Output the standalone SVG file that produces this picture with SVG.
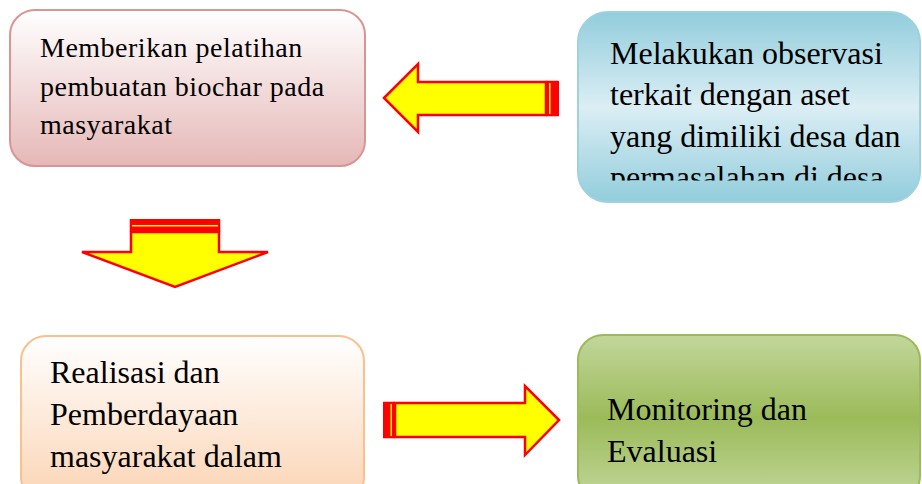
<svg xmlns="http://www.w3.org/2000/svg" width="922" height="484" viewBox="0 0 922 484">
<defs>
<linearGradient id="gPink" x1="0" y1="0" x2="0" y2="1"><stop offset="0" stop-color="#ffffff"/><stop offset="1" stop-color="#e5b8b7"/></linearGradient>
<linearGradient id="gBlue" x1="0" y1="0" x2="0" y2="1"><stop offset="0" stop-color="#92cddc"/><stop offset="0.5" stop-color="#dbeef4"/><stop offset="1" stop-color="#92cddc"/></linearGradient>
<linearGradient id="gOrange" x1="0" y1="0" x2="0" y2="1"><stop offset="0" stop-color="#ffffff"/><stop offset="1" stop-color="#fbd4b4"/></linearGradient>
<linearGradient id="gGreen" x1="0" y1="0" x2="0" y2="1"><stop offset="0" stop-color="#c2d69b"/><stop offset="0.5" stop-color="#9bbb59"/><stop offset="1" stop-color="#c2d69b"/></linearGradient>
<clipPath id="clipBlue"><rect x="578" y="12" width="342" height="168.5"/></clipPath>
</defs>
<style>
text{font-family:"Liberation Serif","Times New Roman",serif;fill:#000;}
.t28{font-size:28px;letter-spacing:0.5px;}
.t32{font-size:32px;}
.arrow{fill:#ffff00;stroke:#ff0000;stroke-width:2.5;stroke-linejoin:miter;}
.stripe{fill:#ff0000;}
.line{fill:#ffff00;}
</style>
<rect width="922" height="484" fill="#ffffff"/>
<g id="node-pelatihan">
<rect x="10" y="10" width="355" height="156" rx="25" ry="25" fill="url(#gPink)" stroke="#d99594" stroke-width="2"/>
<text class="t28" x="40" y="57">Memberikan pelatihan</text>
<text class="t28" x="40" y="95.5">pembuatan biochar pada</text>
<text class="t28" x="40" y="134">masyarakat</text>
</g>
<g id="node-observasi">
<rect x="578" y="12" width="342" height="190" rx="30" ry="30" fill="url(#gBlue)" stroke="#9dd2de" stroke-width="2"/>
<g clip-path="url(#clipBlue)">
<text class="t32" x="610" y="63.5">Melakukan observasi</text>
<text class="t32" x="610" y="105">terkait dengan aset</text>
<text class="t32" x="610" y="146.5">yang dimiliki desa dan</text>
<text class="t32" x="610" y="188">permasalahan di desa</text>
</g>
</g>
<g id="node-realisasi">
<rect x="21" y="336" width="343" height="166" rx="25" ry="25" fill="url(#gOrange)" stroke="#fac08f" stroke-width="2"/>
<text class="t32" x="50" y="383">Realisasi dan</text>
<text class="t32" x="50" y="425">Pemberdayaan</text>
<text class="t32" x="50" y="467">masyarakat dalam</text>
</g>
<g id="node-monitoring">
<rect x="578" y="335" width="342" height="166" rx="25" ry="25" fill="url(#gGreen)" stroke="#9bbb59" stroke-width="2"/>
<text class="t32" x="607" y="420">Monitoring dan</text>
<text class="t32" x="607" y="462">Evaluasi</text>
</g>
<g id="connectors">
<g id="arrow-left">
<polygon class="arrow" points="384,98 418,64 418,82 546,82 546,115 418,115 418,132"/>
<rect class="stripe" x="546" y="80.75" width="13" height="35.5"/>
<rect class="line" x="549" y="83" width="1.5" height="31"/>
</g>
<g id="arrow-down">
<polygon class="arrow" points="131,232 219,232 219,252 268,252 175,287 82,252 131,252"/>
<rect class="stripe" x="129.75" y="219" width="90.5" height="13"/>
<rect class="line" x="132" y="225" width="86" height="1.5"/>
</g>
<g id="arrow-right">
<polygon class="arrow" points="559,420 525,386 525,403 395,403 395,437 525,437 525,455"/>
<rect class="stripe" x="383" y="401.75" width="12" height="36.5"/>
<rect class="line" x="390.5" y="404" width="1.5" height="32"/>
</g>
</g>
</svg>
